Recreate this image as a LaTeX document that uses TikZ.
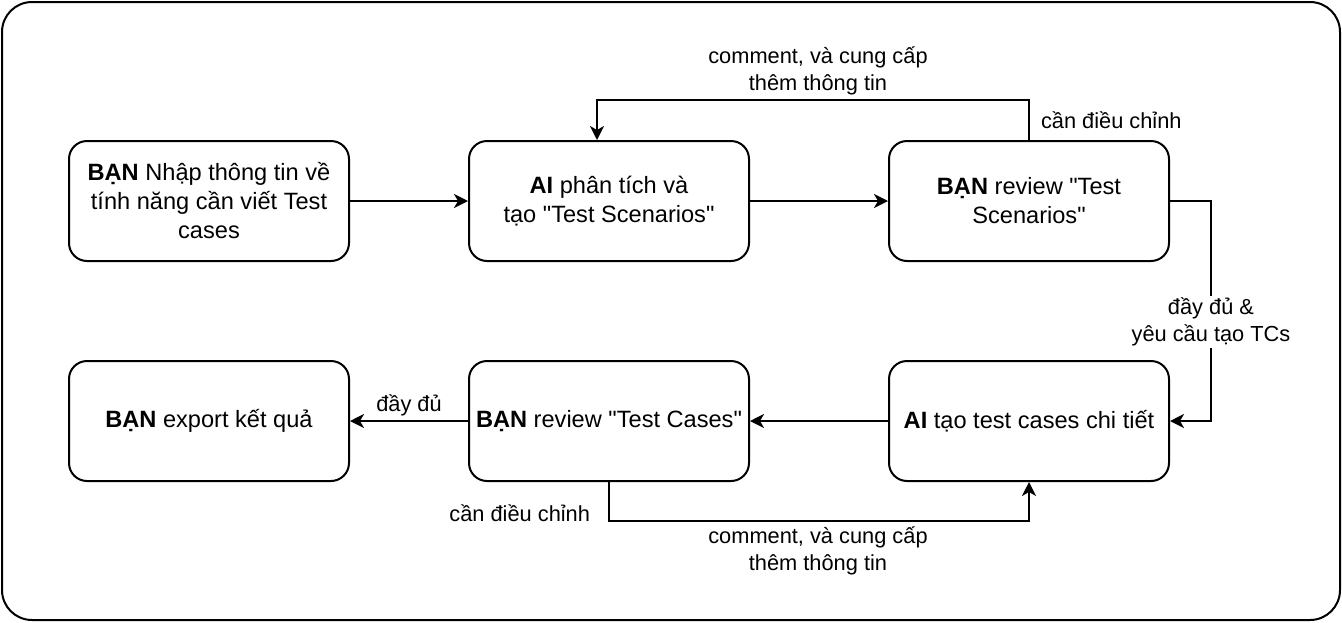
\documentclass[tikz,border=0pt]{standalone}
\usepackage{fontspec}
\setmainfont{Liberation Sans}[Ligatures=TeXOff]
\usetikzlibrary{arrows.meta,calc}
\tikzset{>={Stealth[length=14pt,width=14pt,inset=4pt]}}
\tikzset{
  box/.style={draw,line width=2pt,rounded corners=18pt,minimum width=280pt,minimum height=120pt,align=center,font=\fontsize{23.6}{29}\selectfont},
  lbl/.style={align=center,font=\fontsize{21.8}{27}\selectfont,inner sep=2pt},
  conn/.style={->,line width=2pt}
}

\begin{document}
\begin{tikzpicture}[x=1pt,y=-1pt]
  \useasboundingbox (0,0) rectangle (1342,622);
  \draw[line width=2pt,rounded corners=30pt] (2,2) rectangle (1340,620);
  % top row
  \node[box] (in1) at (209,201) {\textbf{BẠN} Nhập thông tin về\\tính năng cần viết Test\\cases};
  \node[box] (ai1) at (609,201) {\textbf{AI} phân tích và\\tạo "Test Scenarios"};
  \node[box] (rev1) at (1029,201) {\textbf{BẠN} review "Test\\Scenarios"};
  % bottom row
  \node[box] (exp) at (209,421) {\textbf{BẠN} export kết quả};
  \node[box] (rev2) at (609,421) {\textbf{BẠN} review "Test Cases"};
  \node[box] (ai2) at (1029,421) {\textbf{AI} tạo test cases chi tiết};
  \draw[conn] (in1) -- (ai1);
  \draw[conn] (ai1) -- (rev1);
  \coordinate (t1) at ($(ai1.north)+(-12,0)$);
  \draw[conn] (rev1.north) -- ++(0,-40) node[lbl,anchor=west,pos=0.5,xshift=9pt] {cần điều chỉnh} -| (t1);
  \node[lbl] (c1) at (818,71) {comment, và cung cấp\\thêm thông tin};
  \coordinate (r1) at ($(rev1.east)+(41,0)$);
  \draw[conn] (rev1.east) -- (r1) |- node[lbl,fill=white,pos=0.275] {đầy đủ \&\\yêu cầu tạo TCs} (ai2.east);
  \draw[conn] (ai2) -- (rev2);
  \draw[conn] (rev2) -- node[lbl,above,yshift=2pt] {đầy đủ} (exp);
  \draw[conn] (rev2.south) -- ++(0,39) node[lbl,anchor=east,pos=0.8,xshift=-16pt] {cần điều chỉnh} -| (ai2.south);
  \node[lbl] (c2) at (818,551) {comment, và cung cấp\\thêm thông tin};
\end{tikzpicture}
\end{document}
